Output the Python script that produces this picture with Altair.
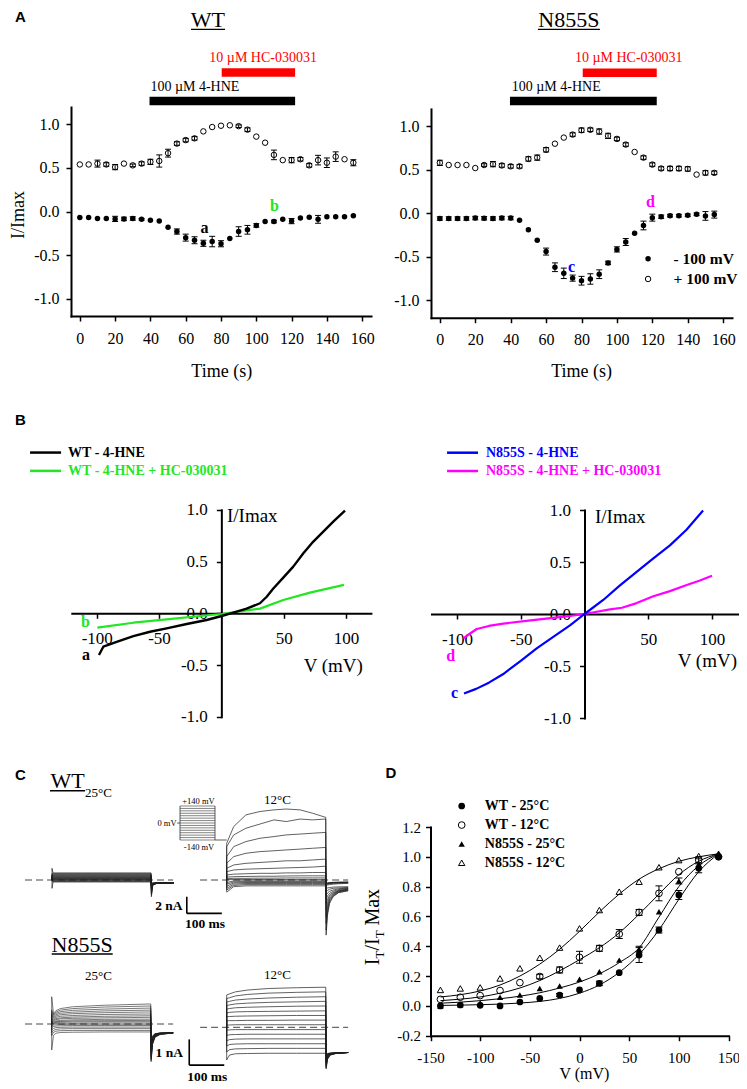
import altair as alt
import pandas as pd

W, H = 731, 1081
SERIF = "Liberation Serif"
SANS = "Liberation Sans"
GREEN = "#22e622"
RED = "#ff0000"
BLUE = "#0000ff"
MAGENTA = "#ff00ff"
TRC = "#1e1e1e"

# ---------------- Panel A data ----------------
A_T = [0, 5, 10, 15, 20, 25, 30, 35, 40, 45, 50, 55, 60, 65, 70, 75,
       80, 85, 90, 95, 100, 105, 110, 115, 120, 125, 130, 135, 140, 145, 150, 155]
WT_OPEN = [0.54, 0.54, 0.55, 0.54, 0.51, 0.55, 0.53, 0.55, 0.57, 0.58, 0.67, 0.78, 0.82, 0.84, 0.92, 0.97,
           0.985, 0.99, 0.98, 0.94, 0.86, 0.79, 0.65, 0.59, 0.59, 0.60, 0.53, 0.59, 0.56, 0.63, 0.60, 0.56]
WT_OPEN_ERR = [0, 0, 0.04, 0.02, 0.03, 0, 0.015, 0.02, 0.03, 0.07, 0.045, 0.02, 0.02, 0.02, 0, 0,
               0, 0, 0.015, 0.02, 0, 0, 0.055, 0, 0.03, 0.02, 0.02, 0.055, 0.055, 0.055, 0, 0.035]
WT_FILL = [-0.07, -0.07, -0.08, -0.08, -0.085, -0.085, -0.08, -0.09, -0.10, -0.11, -0.18, -0.23, -0.30, -0.33, -0.365, -0.345,
           -0.37, -0.31, -0.23, -0.21, -0.16, -0.115, -0.115, -0.09, -0.11, -0.075, -0.065, -0.09, -0.06, -0.06, -0.06, -0.05]
WT_FILL_ERR = [0, 0, 0, 0, 0.03, 0.02, 0.02, 0.01, 0, 0, 0, 0.03, 0.04, 0.04, 0.035, 0.06,
               0.035, 0, 0.055, 0.05, 0.02, 0, 0.015, 0, 0.03, 0, 0, 0.045, 0, 0, 0, 0]
N_OPEN = [0.58, 0.555, 0.555, 0.555, 0.52, 0.555, 0.565, 0.55, 0.54, 0.54, 0.625, 0.64, 0.73, 0.80, 0.87, 0.905,
          0.955, 0.96, 0.94, 0.89, 0.855, 0.79, 0.705, 0.64, 0.56, 0.515, 0.515, 0.515, 0.51, 0.445, 0.465, 0.465]
N_OPEN_ERR = [0.03, 0, 0, 0, 0, 0.015, 0.03, 0.02, 0.02, 0.02, 0.025, 0.03, 0.025, 0, 0, 0.02,
              0.025, 0.02, 0.03, 0.03, 0.02, 0.02, 0, 0.02, 0.02, 0.02, 0.025, 0.025, 0.025, 0, 0.025, 0.02]
N_FILL = [-0.06, -0.06, -0.06, -0.06, -0.055, -0.057, -0.06, -0.055, -0.055, -0.08, -0.19, -0.31, -0.44, -0.62, -0.69, -0.745,
          -0.775, -0.755, -0.70, -0.57, -0.415, -0.33, -0.23, -0.14, -0.05, -0.04, -0.027, -0.027, -0.023, -0.012, -0.03, -0.015]
N_FILL_ERR = [0.02, 0.02, 0.02, 0.02, 0.02, 0.02, 0.02, 0.02, 0.02, 0, 0, 0, 0.04, 0.05, 0.06, 0.035,
              0.05, 0.06, 0.05, 0.02, 0.03, 0.04, 0, 0.05, 0.04, 0.02, 0.015, 0.015, 0.015, 0.015, 0.05, 0.04]
A_XTICKS = [0, 20, 40, 60, 80, 100, 120, 140, 160]
A_YTICKS = [-1.0, -0.5, 0.0, 0.5, 1.0]

# ---------------- Panel B data ----------------
BLK_V = [-98.2, -94.7, -84, -70.6, -57.2, -43.9, -27.8, -11.8, 0.2, 9.6, 20.3, 31, 36.4, 41.7, 49.7, 57.7, 65.8, 73.8, 81.8, 89.8, 99.2]
BLK_I = [-0.403, -0.323, -0.275, -0.22, -0.178, -0.145, -0.103, -0.065, -0.026, 0.006, 0.045, 0.097, 0.16, 0.24, 0.345, 0.451, 0.58, 0.693, 0.79, 0.886, 0.993]
GRN_V = [-99.5, -70.6, -43.9, -17.1, 0.2, 9.6, 31, 49.7, 71.1, 98.4]
GRN_I = [-0.139, -0.091, -0.059, -0.026, -0.007, 0.010, 0.045, 0.129, 0.2, 0.274]
BLU_V = [-94.5, -85, -75, -64, -50, -37.5, -24.5, -11.4, 0, 14.7, 27.8, 40.9, 54, 67, 80, 93]
BLU_I = [-0.765, -0.72, -0.66, -0.58, -0.45, -0.33, -0.22, -0.11, 0.0, 0.135, 0.275, 0.405, 0.535, 0.66, 0.81, 0.995]
MAG_V = [-95, -90, -84.5, -75, -63.7, -45.6, -23.1, -11.4, 0, 20, 29.4, 40.9, 54, 67, 80.2, 90, 100]
MAG_I = [-0.234, -0.19, -0.144, -0.115, -0.092, -0.066, -0.035, -0.019, 0.0, 0.045, 0.06, 0.105, 0.17, 0.22, 0.279, 0.32, 0.368]
B_XTICKS = [-100, -50, 50, 100]
B_YTICKS = [-1.0, -0.5, 0.0, 0.5, 1.0]

# ---------------- Panel C data (nA vs ms) ----------------
WT25_T = [0, 3, 283]
WT25_P = [[1.4, 0.85, 0.85], [0.76, 0.76, 0.76], [0.68, 0.68, 0.68], [0.60, 0.60, 0.60], [0.52, 0.52, 0.52],
          [0.45, 0.45, 0.45], [0.38, 0.38, 0.38], [0.31, 0.31, 0.31], [0.25, 0.25, 0.25], [0.19, 0.19, 0.19],
          [0.13, 0.13, 0.13], [0.08, 0.08, 0.08], [0.03, 0.03, 0.03], [-0.03, -0.03, -0.03], [-0.10, -0.10, -0.10],
          [-0.17, -0.17, -0.17], [-1.0, -0.24, -0.24]]
WT25_TT = [284, 288, 300, 347]
WT25_TL = [[-2.0, -0.6, -0.4, -0.36], [-1.8, -0.58, -0.4, -0.36], [-1.65, -0.56, -0.39, -0.36], [-1.5, -0.54, -0.39, -0.36],
           [-1.35, -0.52, -0.39, -0.35], [-1.2, -0.5, -0.38, -0.35], [-1.1, -0.49, -0.38, -0.35], [-1.0, -0.48, -0.38, -0.35],
           [-0.9, -0.46, -0.37, -0.35], [-0.8, -0.45, -0.37, -0.35], [-0.72, -0.44, -0.37, -0.35], [-0.65, -0.42, -0.36, -0.34],
           [-0.58, -0.41, -0.36, -0.34], [-0.52, -0.40, -0.36, -0.34], [-0.47, -0.38, -0.35, -0.34], [-0.43, -0.37, -0.35, -0.34],
           [-0.40, -0.36, -0.35, -0.34]]

WT12_T = [0, 20, 55, 95, 135, 170, 210, 245, 283]
WT12_P = [[4.4, 6.4, 7.8, 8.2, 8.4, 8.5, 8.4, 8.0, 7.5],
          [4.0, 5.4, 6.2, 6.7, 7.2, 7.0, 7.3, 7.2, 7.3],
          [2.8, 4.0, 4.6, 5.0, 5.2, 5.4, 5.5, 5.6, 5.7],
          [2.0, 2.8, 3.2, 3.4, 3.5, 3.6, 3.7, 3.8, 3.9],
          [1.4, 1.8, 2.0, 2.1, 2.2, 2.3, 2.3, 2.4, 2.5],
          [1.0, 1.2, 1.3, 1.35, 1.4, 1.45, 1.5, 1.55, 1.65],
          [0.6, 0.7, 0.75, 0.8, 0.8, 0.85, 0.85, 0.9, 0.9],
          [0.35, 0.4, 0.42, 0.45, 0.45, 0.48, 0.5, 0.5, 0.5],
          [0.15, 0.2, 0.2, 0.22, 0.22, 0.24, 0.25, 0.25, 0.25],
          [0.04, 0.05, 0.05, 0.06, 0.06, 0.06, 0.07, 0.07, 0.07],
          [-0.3, -0.12, -0.1, -0.1, -0.1, -0.1, -0.1, -0.1, -0.1],
          [-0.5, -0.24, -0.2, -0.2, -0.2, -0.2, -0.2, -0.2, -0.2],
          [-0.75, -0.36, -0.3, -0.3, -0.3, -0.3, -0.3, -0.3, -0.3],
          [-1.0, -0.5, -0.42, -0.42, -0.42, -0.42, -0.42, -0.42, -0.42],
          [-1.2, -0.65, -0.55, -0.55, -0.55, -0.55, -0.55, -0.55, -0.55],
          [-1.45, -0.8, -0.7, -0.7, -0.7, -0.7, -0.7, -0.7, -0.7]]
WT12_TT = [284, 288, 294, 304, 320, 347]
WT12_TL = [[-6.6, -4.2, -2.8, -2.0, -1.5, -1.3], [-6.0, -3.9, -2.6, -1.9, -1.5, -1.25],
           [-5.2, -3.5, -2.4, -1.8, -1.4, -1.2], [-4.4, -3.1, -2.2, -1.7, -1.35, -1.15],
           [-3.6, -2.7, -2.0, -1.6, -1.3, -1.1], [-2.9, -2.3, -1.8, -1.5, -1.25, -1.05],
           [-2.3, -1.9, -1.6, -1.35, -1.15, -1.0], [-1.8, -1.55, -1.35, -1.2, -1.05, -0.95],
           [-1.4, -1.25, -1.1, -1.0, -0.95, -0.9], [-1.0, -0.95, -0.9, -0.85, -0.82, -0.8],
           [-0.7, -0.6, -0.55, -0.5, -0.45, -0.4], [-0.6, -0.5, -0.45, -0.4, -0.38, -0.35],
           [-0.55, -0.45, -0.4, -0.35, -0.33, -0.3], [-0.5, -0.4, -0.35, -0.32, -0.3, -0.28],
           [-0.45, -0.38, -0.33, -0.3, -0.28, -0.26], [-0.4, -0.35, -0.3, -0.28, -0.26, -0.25]]

N25_T = [0, 5, 12, 25, 60, 150, 283]
N25_P = [[1.06, 0.40, 0.52, 0.60, 0.67, 0.73, 0.78], [0.55, 0.36, 0.46, 0.54, 0.60, 0.66, 0.70],
         [0.45, 0.32, 0.41, 0.48, 0.53, 0.58, 0.62], [0.38, 0.28, 0.36, 0.42, 0.46, 0.51, 0.54],
         [0.32, 0.25, 0.31, 0.36, 0.40, 0.44, 0.47], [0.26, 0.21, 0.26, 0.30, 0.33, 0.37, 0.39],
         [0.21, 0.17, 0.21, 0.24, 0.27, 0.30, 0.32], [0.17, 0.14, 0.17, 0.20, 0.22, 0.24, 0.26],
         [0.12, 0.10, 0.12, 0.14, 0.16, 0.18, 0.19], [0.08, 0.07, 0.09, 0.10, 0.12, 0.13, 0.14],
         [0.05, 0.04, 0.06, 0.07, 0.08, 0.09, 0.09], [0.01, 0.01, 0.02, 0.03, 0.03, 0.04, 0.04],
         [-0.06, -0.04, -0.03, -0.02, -0.01, -0.01, -0.01], [-0.14, -0.10, -0.08, -0.07, -0.06, -0.06, -0.06],
         [-0.24, -0.17, -0.14, -0.13, -0.12, -0.12, -0.12], [-0.34, -0.25, -0.21, -0.19, -0.18, -0.18, -0.18],
         [-0.45, -0.33, -0.28, -0.26, -0.25, -0.25, -0.25], [-1.01, -0.45, -0.36, -0.33, -0.32, -0.31, -0.31]]
N25_TT = [284, 288, 295, 310, 347]
N25_TL = [[-1.47, -0.80, -0.52, -0.40, -0.35], [-1.42, -0.78, -0.51, -0.40, -0.35], [-1.37, -0.76, -0.50, -0.40, -0.35],
          [-1.32, -0.74, -0.49, -0.39, -0.35], [-1.27, -0.72, -0.48, -0.39, -0.35], [-1.22, -0.70, -0.47, -0.39, -0.35],
          [-1.17, -0.68, -0.46, -0.38, -0.35], [-1.12, -0.66, -0.45, -0.38, -0.34], [-1.07, -0.64, -0.44, -0.38, -0.34],
          [-1.02, -0.62, -0.43, -0.37, -0.34], [-0.97, -0.60, -0.42, -0.37, -0.34], [-0.92, -0.58, -0.41, -0.37, -0.34],
          [-0.87, -0.56, -0.40, -0.36, -0.34], [-0.82, -0.54, -0.40, -0.36, -0.34], [-0.77, -0.52, -0.39, -0.36, -0.34],
          [-0.72, -0.50, -0.39, -0.35, -0.33], [-0.67, -0.48, -0.38, -0.35, -0.33], [-0.62, -0.46, -0.38, -0.35, -0.33]]

N12_T = [0, 8, 25, 60, 120, 200, 283]
N12_P = [[1.26, 1.30, 1.38, 1.45, 1.51, 1.54, 1.56], [1.12, 1.15, 1.22, 1.28, 1.33, 1.36, 1.38],
         [0.98, 1.01, 1.06, 1.10, 1.14, 1.17, 1.19], [0.85, 0.87, 0.91, 0.94, 0.97, 0.99, 1.01],
         [0.71, 0.73, 0.76, 0.78, 0.80, 0.82, 0.83], [0.56, 0.58, 0.60, 0.61, 0.62, 0.63, 0.64],
         [0.41, 0.42, 0.43, 0.44, 0.45, 0.46, 0.46], [0.25, 0.26, 0.26, 0.27, 0.27, 0.28, 0.28],
         [0.09, 0.09, 0.10, 0.10, 0.10, 0.10, 0.10], [-0.12, -0.10, -0.09, -0.09, -0.09, -0.09, -0.09],
         [-0.32, -0.29, -0.28, -0.27, -0.27, -0.27, -0.27], [-0.52, -0.48, -0.46, -0.45, -0.45, -0.45, -0.45],
         [-0.73, -0.67, -0.65, -0.64, -0.64, -0.64, -0.64], [-0.96, -0.87, -0.84, -0.83, -0.82, -0.82, -0.82],
         [-1.27, -1.08, -1.03, -1.02, -1.01, -1.01, -1.01]]
N12_TT = [284, 288, 296, 312, 347]
N12_TL = [[-1.62, -1.25, -1.08, -1.02, -0.98], [-1.58, -1.23, -1.07, -1.02, -0.98], [-1.54, -1.21, -1.06, -1.01, -0.98],
          [-1.50, -1.19, -1.06, -1.01, -0.98], [-1.46, -1.17, -1.05, -1.01, -0.98], [-1.42, -1.15, -1.05, -1.01, -0.98],
          [-1.38, -1.13, -1.04, -1.00, -0.98], [-1.34, -1.11, -1.04, -1.00, -0.98], [-1.30, -1.09, -1.03, -1.00, -0.98],
          [-1.26, -1.07, -1.03, -1.00, -0.98], [-1.22, -1.06, -1.02, -1.00, -0.98], [-1.18, -1.05, -1.02, -0.99, -0.98],
          [-1.14, -1.04, -1.01, -0.99, -0.98], [-1.10, -1.03, -1.01, -0.99, -0.98], [-1.06, -1.02, -1.00, -0.99, -0.98]]

STEP_MV = [-140, -120, -100, -80, -60, -40, -20, 0, 20, 40, 60, 80, 100, 120, 140]
PULSE_MS = 285

# ---------------- Panel D data ----------------
D_V = [-140, -120, -100, -80, -60, -40, -20, 0, 20, 40, 60, 80, 100, 120, 140]
D_WT25 = [0.0, 0.006, 0.004, 0.0, 0.026, 0.05, 0.073, 0.107, 0.151, 0.223, 0.341, 0.509, 0.744, 0.923, 1.0]
D_WT25_E = [0, 0, 0, 0, 0, 0, 0.01, 0, 0.015, 0, 0.05, 0.02, 0.03, 0.03, 0]
D_WT12 = [0.044, 0.058, 0.069, 0.103, 0.156, 0.197, 0.241, 0.326, 0.386, 0.482, 0.627, 0.755, 0.9, 0.98, 1.0]
D_WT12_E = [0, 0, 0, 0, 0, 0.015, 0.02, 0.04, 0.02, 0.03, 0.02, 0.05, 0, 0.02, 0]
D_N25 = [-0.002, 0.008, 0.02, 0.058, 0.073, 0.117, 0.133, 0.178, 0.229, 0.307, 0.38, 0.632, 0.838, 0.95, 1.02]
D_N25_E = [0, 0, 0, 0, 0, 0, 0, 0, 0, 0, 0.02, 0, 0.02, 0, 0]
D_N12 = [0.107, 0.117, 0.124, 0.184, 0.252, 0.323, 0.391, 0.52, 0.643, 0.766, 0.833, 0.93, 0.978, 1.005, 1.02]
FIT_WT25 = [0.003, 0.005, 0.008, 0.012, 0.019, 0.03, 0.05, 0.085, 0.14, 0.225, 0.345, 0.51, 0.715, 0.9, 1.02]
FIT_N25 = [0.018, 0.025, 0.035, 0.048, 0.065, 0.088, 0.12, 0.16, 0.215, 0.29, 0.39, 0.595, 0.8, 0.94, 1.02]
FIT_WT12 = [0.035, 0.045, 0.06, 0.085, 0.12, 0.17, 0.235, 0.31, 0.39, 0.49, 0.615, 0.75, 0.88, 0.97, 1.02]
FIT_N12 = [0.06, 0.075, 0.1, 0.14, 0.2, 0.28, 0.38, 0.5, 0.63, 0.75, 0.85, 0.92, 0.97, 1.0, 1.02]
D_XTICKS = [-150, -100, -50, 0, 50, 100, 150]
D_YTICKS = [-0.2, 0.0, 0.2, 0.4, 0.6, 0.8, 1.0, 1.2]


# ---------------- helpers ----------------
def S(dom, rng):
    return alt.Scale(domain=dom, range=rng, nice=False, zero=False)


def X(f, s, axis=None):
    return alt.X(f, type="quantitative", scale=s, axis=axis)


def Y(f, s, axis=None):
    return alt.Y(f, type="quantitative", scale=s, axis=axis)


FMT1 = "datum.value < 0 ? '-' + format(-datum.value, '.1f') : format(datum.value, '.1f')"
FMT0 = "datum.value < 0 ? '-' + format(-datum.value, 'd') : format(datum.value, 'd')"


def AX(orient, offset, values, expr, size, pad, tick=5):
    return alt.Axis(orient=orient, offset=offset, values=values, grid=False, title=None,
                    domainColor="black", domainWidth=2, domainCap="square",
                    tickColor="black", tickWidth=1.5, tickSize=tick,
                    labelFont=SERIF, labelFontSize=size, labelColor="black",
                    labelPadding=pad, labelFlush=False, labelOverlap=False,
                    labelExpr=expr)


def TX(rows, sx, sy, size, color="black", weight="normal", align="center",
       baseline="alphabetic", font=SERIF, angle=None):
    df = pd.DataFrame(rows, columns=["x", "y", "s"])
    kw = dict(align=align, baseline=baseline, font=font, fontSize=size, color=color, fontWeight=weight)
    if angle is not None:
        kw["angle"] = angle
    return alt.Chart(df).mark_text(**kw).encode(x=X("x", sx), y=Y("y", sy), text="s:N")


def PT(xv, yv, sx, sy, shape="circle", filled=True, size=30, xaxis=None, yaxis=None):
    df = pd.DataFrame({"x": xv, "y": yv})
    return alt.Chart(df).mark_point(shape=shape, filled=filled, size=size, color="black",
                                    strokeWidth=1, opacity=1).encode(
        x=X("x", sx, xaxis), y=Y("y", sy, yaxis))


def EB(xv, yv, ev, sx, sy, cap=6):
    df = pd.DataFrame({"x": xv, "y": yv, "e": ev})
    df = df[df.e > 0].copy()
    df["lo"] = df.y - df.e
    df["hi"] = df.y + df.e
    base = alt.Chart(df)
    r = base.mark_rule(color="black", strokeWidth=1).encode(x=X("x", sx), y=Y("lo", sy), y2="hi")
    t1 = base.mark_tick(orient="horizontal", size=cap, thickness=1, color="black", opacity=1).encode(
        x=X("x", sx), y=Y("lo", sy))
    t2 = base.mark_tick(orient="horizontal", size=cap, thickness=1, color="black", opacity=1).encode(
        x=X("x", sx), y=Y("hi", sy))
    return [r, t1, t2]


def HR(rows, sx, sy, color="black", width=1.0, dash=None):
    df = pd.DataFrame(rows, columns=["x1", "x2", "y"])
    kw = dict(color=color, strokeWidth=width, strokeCap="butt")
    if dash:
        kw["strokeDash"] = dash
    return alt.Chart(df).mark_rule(**kw).encode(x=X("x1", sx), x2="x2", y=Y("y", sy))


def VR(rows, sx, sy, color="black", width=1.0):
    df = pd.DataFrame(rows, columns=["x", "y1", "y2"])
    return alt.Chart(df).mark_rule(color=color, strokeWidth=width, strokeCap="butt").encode(
        x=X("x", sx), y=Y("y1", sy), y2="y2")


def LN(xv, yv, sx, sy, color, width, xaxis=None, yaxis=None, interp="linear"):
    df = pd.DataFrame({"x": xv, "y": yv, "o": list(range(len(xv)))})
    return alt.Chart(df).mark_line(color=color, strokeWidth=width, strokeJoin="round",
                                   interpolate=interp).encode(
        x=X("x", sx, xaxis), y=Y("y", sy, yaxis), order="o:Q")


def TRACES(T, P, TT, TL, sx, sy, width=0.6):
    rows = []
    for k, (p, tl) in enumerate(zip(P, TL)):
        seq = [(0, 0.0)] + list(zip(T, p)) + list(zip(TT, tl))
        for i, (t, v) in enumerate(seq):
            rows.append({"t": t, "i": v, "k": k, "o": i})
    df = pd.DataFrame(rows)
    return alt.Chart(df).mark_line(color=TRC, strokeWidth=width).encode(
        x=X("t", sx), y=Y("i", sy), detail="k:N", order="o:Q")


layers = []

# ================= Panel A left (WT) =================
ax1 = S([-5, 165], [63, 363])
ay1 = S([-1.2, 1.2], [308, 99])
layers += EB(A_T + A_T, WT_OPEN + WT_FILL, WT_OPEN_ERR + WT_FILL_ERR, ax1, ay1)
layers.append(PT(A_T, WT_OPEN, ax1, ay1, filled=False,
                 xaxis=AX("bottom", 308 - H, A_XTICKS, FMT0, 16, 9),
                 yaxis=AX("left", -63, A_YTICKS, FMT1, 16, 7)))
layers.append(PT(A_T, WT_FILL, ax1, ay1, filled=True))
layers.append(HR([[39.5, 122, 1.269]], ax1, ay1, "black", 8.7))
layers.append(HR([[80.4, 122, 1.596]], ax1, ay1, RED, 8.4))
layers.append(TX([[40, 1.387, "100 \u00b5M 4-HNE"]], ax1, ay1, 14, align="left"))
layers.append(TX([[73.4, 1.713, "10 \u00b5M HC-030031"]], ax1, ay1, 14, color=RED, align="left"))
layers.append(TX([[72.6, 2.119, "WT"]], ax1, ay1, 22))
layers.append(HR([[63.0, 82.3, 2.092]], ax1, ay1, "black", 1.3))
layers.append(TX([[70.7, -0.25, "a"]], ax1, ay1, 16, weight="bold"))
layers.append(TX([[110.3, 0.009, "b"]], ax1, ay1, 16, color=GREEN, weight="bold"))
layers.append(TX([[80.4, -1.897, "Time (s)"]], ax1, ay1, 18))
layers.append(TX([[-31.9, -0.04, "I/Imax"]], ax1, ay1, 18, angle=270))
layers.append(TX([[-36.7, 2.176, "A"]], ax1, ay1, 15, weight="bold", align="left", font=SANS))

# ================= Panel A right (N855S) =================
ax2 = S([-5, 165], [423, 724])
ay2 = S([-1.2, 1.2], [309.7, 100.9])
layers += EB(A_T + A_T, N_OPEN + N_FILL, N_OPEN_ERR + N_FILL_ERR, ax2, ay2)
layers.append(PT(A_T, N_OPEN, ax2, ay2, filled=False,
                 xaxis=AX("bottom", 309.7 - H, A_XTICKS, FMT0, 16, 9),
                 yaxis=AX("left", -423, A_YTICKS, FMT1, 16, 7)))
layers.append(PT(A_T, N_FILL, ax2, ay2, filled=True))
layers.append(HR([[39.6, 122.5, 1.291]], ax2, ay2, "black", 8.7))
layers.append(HR([[80.7, 122.5, 1.615]], ax2, ay2, RED, 8.4))
layers.append(TX([[40.6, 1.409, "100 \u00b5M 4-HNE"]], ax2, ay2, 14, align="left"))
layers.append(TX([[76.3, 1.736, "10 \u00b5M HC-030031"]], ax2, ay2, 14, color=RED, align="left"))
layers.append(TX([[72.9, 2.141, "N855S"]], ax2, ay2, 22))
layers.append(HR([[55.4, 90.4, 2.115]], ax2, ay2, "black", 1.3))
layers.append(TX([[74.4, -0.671, "c"]], ax2, ay2, 16, color=BLUE, weight="bold"))
layers.append(TX([[119, 0.076, "d"]], ax2, ay2, 16, color=MAGENTA, weight="bold"))
layers.append(TX([[80.1, -1.885, "Time (s)"]], ax2, ay2, 18))
layers.append(PT([117.6], [-0.522], ax2, ay2, filled=True))
layers.append(PT([117.6], [-0.755], ax2, ay2, filled=False))
layers.append(TX([[132, -0.522, "- 100 mV"], [132, -0.755, "+ 100 mV"]], ax2, ay2, 15.5,
                 weight="bold", align="left", baseline="middle"))

# ================= Panel B left (WT) =================
bx1 = S([-120, 120], [63.8, 362.9])
by1 = S([-1, 1], [708.8, 501.8])
layers.append(LN(GRN_V, GRN_I, bx1, by1, GREEN, 2.2))
layers.append(LN(BLK_V, BLK_I, bx1, by1, "black", 2.4,
                 xaxis=AX("bottom", 605.3 - H, B_XTICKS, FMT0, 17, 12),
                 yaxis=AX("left", -213.35, B_YTICKS, FMT1, 17, 9)))
layers.append(HR([[-153.5, -128.6, 1.553]], bx1, by1, "black", 2.5))
layers.append(HR([[-153.5, -128.6, 1.376]], bx1, by1, GREEN, 2.5))
layers.append(TX([[-123, 1.553, "WT - 4-HNE"]], bx1, by1, 14, weight="bold", align="left", baseline="middle"))
layers.append(TX([[-123, 1.376, "WT - 4-HNE + HC-030031"]], bx1, by1, 14, color=GREEN, weight="bold",
                 align="left", baseline="middle"))
layers.append(TX([[-108.7, -0.452, "a"]], bx1, by1, 16, weight="bold"))
layers.append(TX([[-109, -0.137, "b"]], bx1, by1, 16, color=GREEN, weight="bold"))
layers.append(TX([[4.5, 0.886, "I/Imax"]], bx1, by1, 19, align="left"))
layers.append(TX([[113.6, -0.565, "V (mV)"]], bx1, by1, 19, align="right"))
layers.append(TX([[-165.5, 1.821, "B"]], bx1, by1, 15, weight="bold", align="left", font=SANS))

# ================= Panel B right (N855S) =================
bx2 = S([-120, 120], [423.5, 729.5])
by2 = S([-1, 1], [710, 502])
layers.append(LN(MAG_V, MAG_I, bx2, by2, MAGENTA, 2.2))
layers.append(LN(BLU_V, BLU_I, bx2, by2, BLUE, 2.2,
                 xaxis=AX("bottom", 606 - H, B_XTICKS, FMT0, 17, 12),
                 yaxis=AX("left", -576.5, B_YTICKS, FMT1, 17, 9)))
layers.append(HR([[-107.8, -83.5, 1.551]], bx2, by2, BLUE, 2.5))
layers.append(HR([[-107.8, -83.5, 1.375]], bx2, by2, MAGENTA, 2.5))
layers.append(TX([[-77.3, 1.551, "N855S - 4-HNE"]], bx2, by2, 14, color=BLUE, weight="bold",
                 align="left", baseline="middle"))
layers.append(TX([[-77.3, 1.375, "N855S - 4-HNE + HC-030031"]], bx2, by2, 14, color=MAGENTA, weight="bold",
                 align="left", baseline="middle"))
layers.append(TX([[-102, -0.81, "c"]], bx2, by2, 16, color=BLUE, weight="bold"))
layers.append(TX([[-105, -0.455, "d"]], bx2, by2, 16, color=MAGENTA, weight="bold"))
layers.append(TX([[8.2, 0.878, "I/Imax"]], bx2, by2, 19, align="left"))
layers.append(TX([[119.6, -0.513, "V (mV)"]], bx2, by2, 19, align="right"))

# ================= Panel C (current traces) =================
cx_wt25 = S([0, 300], [44, 149])
cx_wt12 = S([0, 300], [218.7, 323.7])
cx_n25 = S([0, 300], [43.7, 148.7])
cx_n12 = S([0, 300], [218.7, 323.7])
cy_wt = S([-4, 4], [905.4, 838.6])
cy_n25 = S([-1, 1], [1041.7, 990.3])
cy_n12 = S([-1, 1], [1045, 993.6])

DASH = [7, 4]
layers.append(HR([[-77, 346, 0]], cx_wt25, cy_wt, "#444", 1, DASH))
layers.append(HR([[-76, 347, 0]], cx_wt12, cy_wt, "#444", 1, DASH))
layers.append(HR([[-76, 347, 0]], cx_n25, cy_n25, "#444", 1, DASH))
layers.append(HR([[-76, 347, 0]], cx_n12, cy_n12, "#444", 1, DASH))
layers.append(TRACES(WT25_T, WT25_P, WT25_TT, WT25_TL, cx_wt25, cy_wt, 0.7))
layers.append(TRACES(WT12_T, WT12_P, WT12_TT, WT12_TL, cx_wt12, cy_wt, 0.7))
layers.append(TRACES(N25_T, N25_P, N25_TT, N25_TL, cx_n25, cy_n25, 0.6))
layers.append(TRACES(N12_T, N12_P, N12_TT, N12_TL, cx_n12, cy_n12, 0.7))

# voltage protocol inset
ix = S([0, PULSE_MS], [172, 207])
iy = S([-140, 140], [832, 798])
layers.append(HR([[0, PULSE_MS, v] for v in STEP_MV], ix, iy, "#333", 0.6))
layers.append(VR([[0, -140, 140], [PULSE_MS, -140, 140]], ix, iy, "#333", 0.8))
layers.append(HR([[-24, 0, 0], [PULSE_MS, 380, -140]], ix, iy, "#333", 0.8))
layers.append(TX([[150, 184, "+140 mV"], [155, -195, "-140 mV"]], ix, iy, 8.5, baseline="middle"))
layers.append(TX([[-28, 0, "0 mV"]], ix, iy, 8.5, align="right", baseline="middle"))

# scale bars
layers.append(VR([[-114, -2, -4]], cx_wt12, cy_wt, "black", 1.6))
layers.append(HR([[-114, -14, -4]], cx_wt12, cy_wt, "black", 1.6))
layers.append(TX([[-126, -3.1, "2 nA"]], cx_wt12, cy_wt, 13.5, weight="bold", align="right", baseline="middle"))
layers.append(TX([[-62, -5.3, "100 ms"]], cx_wt12, cy_wt, 13.5, weight="bold", baseline="middle"))
layers.append(VR([[-107, -0.47, -1.47]], cx_n12, cy_n12, "black", 1.6))
layers.append(HR([[-107, -7, -1.47]], cx_n12, cy_n12, "black", 1.6))
layers.append(TX([[-125, -1.01, "1 nA"]], cx_n12, cy_n12, 13.5, weight="bold", align="right", baseline="middle"))
layers.append(TX([[-55.6, -1.92, "100 ms"]], cx_n12, cy_n12, 13.5, weight="bold", baseline="middle"))

# C labels
layers.append(TX([[44.3, 10.98, "WT"]], cx_wt25, cy_wt, 22))
layers.append(HR([[-5.7, 94.3, 10.69]], cx_wt25, cy_wt, "black", 1.3))
layers.append(TX([[132.9, 9.94, "25\u00b0C"]], cx_wt25, cy_wt, 13))
layers.append(TX([[145.1, 9.1, "12\u00b0C"]], cx_wt12, cy_wt, 13))
layers.append(TX([[87.1, 2.813, "N855S"]], cx_n25, cy_n25, 22))
layers.append(HR([[0, 174.3, 2.724]], cx_n25, cy_n25, "black", 1.3))
layers.append(TX([[133.7, 1.73, "25\u00b0C"]], cx_n25, cy_n25, 13))
layers.append(TX([[145.1, 1.86, "12\u00b0C"]], cx_n12, cy_n12, 13))
layers.append(TX([[-105.7, 11.98, "C"]], cx_wt25, cy_wt, 15, weight="bold", align="left", font=SANS))

# ================= Panel D =================
dx = S([-150, 150], [422.5, 720.5])
dy = S([-0.2, 1.2], [1027.7, 819])
fit_rows = []
for name, arr in [("wt25", FIT_WT25), ("n25", FIT_N25), ("wt12", FIT_WT12), ("n12", FIT_N12)]:
    for i, (v, y) in enumerate(zip(D_V, arr)):
        fit_rows.append({"x": v, "y": y, "s": name, "o": i})
layers.append(alt.Chart(pd.DataFrame(fit_rows)).mark_line(color="black", strokeWidth=1, interpolate="monotone").encode(
    x=X("x", dx), y=Y("y", dy), detail="s:N", order="o:Q"))
layers += EB(D_V * 3, D_WT25 + D_WT12 + D_N25, D_WT25_E + D_WT12_E + D_N25_E, dx, dy, cap=7)
layers.append(PT(D_V, D_N12, dx, dy, shape="triangle-up", filled=False, size=40,
                 xaxis=AX("bottom", 1027.7 - H, D_XTICKS, FMT0, 15, 10),
                 yaxis=AX("left", -422.5, D_YTICKS, FMT1, 15, 5)))
layers.append(PT(D_V, D_WT12, dx, dy, shape="circle", filled=False, size=45))
layers.append(PT(D_V, D_N25, dx, dy, shape="triangle-up", filled=True, size=40))
layers.append(PT(D_V, D_WT25, dx, dy, shape="circle", filled=True, size=45))
# legend
layers.append(PT([-118.6], [1.341], dx, dy, shape="circle", filled=True, size=45))
layers.append(PT([-118.6], [1.213], dx, dy, shape="circle", filled=False, size=45))
layers.append(PT([-118.6], [1.086], dx, dy, shape="triangle-up", filled=True, size=40))
layers.append(PT([-118.6], [0.960], dx, dy, shape="triangle-up", filled=False, size=40))
layers.append(TX([[-95.3, 1.341, "WT - 25\u00b0C"], [-95.3, 1.213, "WT - 12\u00b0C"],
                  [-95.3, 1.086, "N855S - 25\u00b0C"], [-95.3, 0.960, "N855S - 12\u00b0C"]],
                 dx, dy, 14, weight="bold", align="left", baseline="middle"))
layers.append(TX([[4.9, -0.49, "V (mV)"]], dx, dy, 16))
layers.append(TX([[-201.5, 0.273, "I"], [-201.5, 0.371, "/I"], [-201.5, 0.539, "Max"]],
                 dx, dy, 20, align="left", angle=270))
layers.append(TX([[-196.5, 0.318, "T"], [-196.5, 0.453, "T"]], dx, dy, 13, align="left", angle=270))
layers.append(TX([[-195.4, 1.528, "D"]], dx, dy, 15, weight="bold", align="left", font=SANS))

chart = alt.layer(*layers).resolve_scale(x="independent", y="independent").properties(
    width=W, height=H, autosize=alt.AutoSizeParams(type="none"), padding=0
).configure_view(stroke=None)

chart.save("out.html", embed_options={"renderer": "svg", "actions": False})
